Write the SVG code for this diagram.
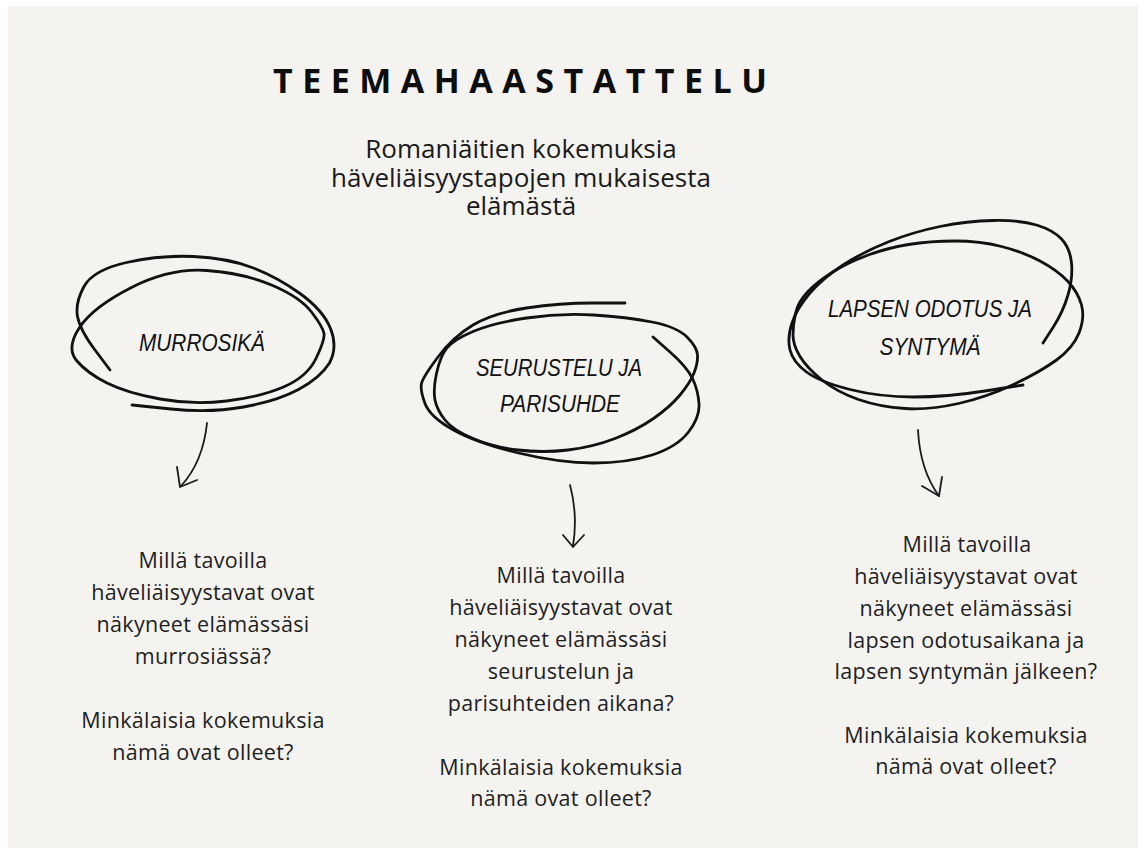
<svg xmlns="http://www.w3.org/2000/svg" width="1138" height="848" viewBox="0 0 1138 848">
  <style>
    .scribble { fill: none; stroke: #111; stroke-width: 2.8; stroke-linecap: round; stroke-linejoin: round; }
    .arrow { fill: none; stroke: #1a1a1a; stroke-width: 1.8; stroke-linecap: round; stroke-linejoin: round; }
    .label { font-family: "Liberation Sans", "DejaVu Sans", sans-serif; font-style: italic; font-size: 23px; fill: #111; text-anchor: middle; }
    .q { font-family: "Open Sans", "Liberation Sans", sans-serif; font-size: 21.5px; fill: #1e1e1e; text-anchor: middle; letter-spacing: 0.3px; }
    .sub { font-family: "Open Sans", "Liberation Sans", sans-serif; font-size: 26px; fill: #1a1a1a; text-anchor: middle; }
    .title { font-family: "Open Sans", "Liberation Sans", sans-serif; font-weight: 700; font-size: 34px; fill: #0d0d0d; }
  </style>
  <rect x="0" y="0" width="1138" height="848" fill="#ffffff"/>
  <rect x="8" y="6" width="1130" height="842" fill="#f4f3f0"/>

  <g id="title">
    <text class="title" x="273" y="93" textLength="494" lengthAdjust="spacing">TEEMAHAASTATTELU</text>
  </g>
  <g id="subtitle">
    <text class="sub" x="521" y="158">Romaniäitien kokemuksia</text>
    <text class="sub" x="521" y="187">häveliäisyystapojen mukaisesta</text>
    <text class="sub" x="521" y="215">elämästä</text>
  </g>

  <g id="node-murrosika">
    <path class="scribble" d="M110,370 L95,350 Q80,330 77.5,316.5 Q75,303 84,286.5 Q93,270 126.5,262.5 Q160,255 193.5,256.5 Q227,258 252,267.5 Q277,277 300,293.5 Q323,310 330.5,328.5 Q338,347 329.5,363 Q320,378 298.5,389.5 Q277,401 243.5,407 Q210,413 171,409 L132,405"/>
    <path class="scribble" d="M76.5,360.5 Q66,348 79.5,327.5 Q93,307 131.5,287.5 Q170,268 206.5,270.5 Q243,273 271.5,285 Q300,297 311.5,312 Q323,327 324,333.5 Q325,340 316,358.5 Q307,377 283.5,387 Q260,397 226.5,401 Q193,405 160,399 Q127,393 107,383 Q87,373 76.5,360.5"/>
    <text class="label" x="202" y="351" textLength="126" lengthAdjust="spacingAndGlyphs">MURROSIKÄ</text>
  </g>

  <g id="node-seurustelu">
    <path class="scribble" d="M625,303 L592.5,303 Q560,303 526.5,308 Q493,313 473,325 Q453,337 438,357 Q423,377 421.5,383.5 Q420,390 425,403.5 Q430,417 453.5,430 Q477,443 518.5,453 Q560,463 593.5,463 Q627,463 652,455 Q677,447 688.5,432 Q700,417 699,403.5 Q698,390 692.5,378.5 Q687,367 670,352 L653,337"/>
    <path class="scribble" d="M435,400 Q433,390 436.5,373.5 Q440,357 446.5,348.5 Q453,340 473,331.5 Q493,323 526.5,318 Q560,313 593.5,315 Q627,317 652,322 Q677,327 687,337 Q697,347 697.5,355 Q698,363 694,373 Q690,383 680,395 Q670,407 653.5,418.5 Q637,430 615,438.5 Q593,447 568,450 Q543,453 518,450 Q493,447 473,438.5 Q453,430 445,420 Q437,410 435,400"/>
    <text class="label" x="559" y="376" textLength="166" lengthAdjust="spacingAndGlyphs">SEURUSTELU JA</text>
    <text class="label" x="560" y="412" textLength="120" lengthAdjust="spacingAndGlyphs">PARISUHDE</text>
  </g>

  <g id="node-lapsen">
    <path class="scribble" d="M1043,343 L1053,327.5 Q1063,312 1068,295 Q1073,278 1071.5,263 Q1070,248 1061.5,239 Q1053,230 1036.5,225 Q1020,220 993.5,220.5 Q967,221 940,226.5 Q913,232 888,242 Q863,252 843,265 Q823,278 810,293 Q797,308 792,323 Q787,338 790,350 Q793,362 806.5,372 Q820,382 850,389.5 Q880,397 913.5,397 Q947,397 985,391 L1023,385"/>
    <path class="scribble" d="M793,335 Q793,325 795.5,313.5 Q798,302 807.5,292 Q817,282 832,272.5 Q847,263 867,255.5 Q887,248 908.5,244.5 Q930,241 955,241 Q980,241 1001.5,246.5 Q1023,252 1040,261 Q1057,270 1067.5,281 Q1078,292 1081.5,305 Q1085,318 1079,333 Q1073,348 1056.5,360 Q1040,372 1013.5,384.5 Q987,397 958.5,403.5 Q930,410 905,408.5 Q880,407 858.5,399.5 Q837,392 822,380 Q807,368 800,356.5 Q793,345 793,335"/>
    <text class="label" x="930" y="317" textLength="204" lengthAdjust="spacingAndGlyphs">LAPSEN ODOTUS JA</text>
    <text class="label" x="930" y="355" textLength="101" lengthAdjust="spacingAndGlyphs">SYNTYMÄ</text>
  </g>

  <g id="connectors">
    <path class="arrow" d="M207,423 Q203,462 181,486"/>
    <path class="arrow" d="M177,467 L180,487 L197,480"/>
    <path class="arrow" d="M570,485 Q578,515 573,546"/>
    <path class="arrow" d="M563,535 L573,547 L584,535"/>
    <path class="arrow" d="M918,430 Q920,470 939,496"/>
    <path class="arrow" d="M922,486 L939,496 L942,477"/>
  </g>

  <g id="q-murrosika">
    <text class="q" x="203" y="568">Millä tavoilla</text>
    <text class="q" x="203" y="600">häveliäisyystavat ovat</text>
    <text class="q" x="203" y="632">näkyneet elämässäsi</text>
    <text class="q" x="203" y="664">murrosiässä?</text>
    <text class="q" x="203" y="728">Minkälaisia kokemuksia</text>
    <text class="q" x="203" y="760">nämä ovat olleet?</text>
  </g>
  <g id="q-seurustelu">
    <text class="q" x="561" y="583">Millä tavoilla</text>
    <text class="q" x="561" y="615">häveliäisyystavat ovat</text>
    <text class="q" x="561" y="647">näkyneet elämässäsi</text>
    <text class="q" x="561" y="679">seurustelun ja</text>
    <text class="q" x="561" y="711">parisuhteiden aikana?</text>
    <text class="q" x="561" y="775">Minkälaisia kokemuksia</text>
    <text class="q" x="561" y="806">nämä ovat olleet?</text>
  </g>
  <g id="q-lapsen">
    <text class="q" x="967" y="552">Millä tavoilla</text>
    <text class="q" x="966" y="584">häveliäisyystavat ovat</text>
    <text class="q" x="966" y="616">näkyneet elämässäsi</text>
    <text class="q" x="966" y="648">lapsen odotusaikana ja</text>
    <text class="q" x="966" y="679">lapsen syntymän jälkeen?</text>
    <text class="q" x="966" y="743">Minkälaisia kokemuksia</text>
    <text class="q" x="966" y="774">nämä ovat olleet?</text>
  </g>
</svg>
